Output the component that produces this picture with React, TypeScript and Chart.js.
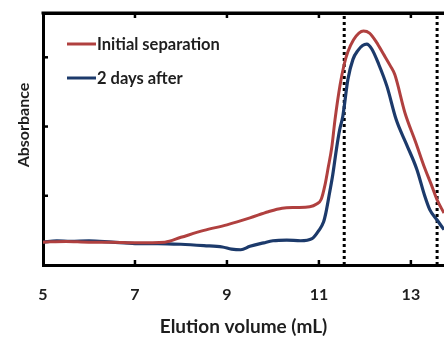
import React, { useEffect, useRef } from "react";
import { Chart, registerables } from "chart.js";

Chart.register(...registerables);

const xTickValues = [5, 7, 9, 11, 13];
const yTickValues = [1, 2, 3];
const xMin = 5;
const xMax = 13.72;
const yMin = 0;
const yMax = 3.64;

const seriesNames = ["Initial separation", "2 days after"];
const axisTitles = ["Elution volume (mL)", "Absorbance"];

const initialX = [5.0, 5.5, 6.0, 6.5, 7.0, 7.65, 8.0, 8.5, 9.0, 9.5, 9.9, 10.2, 10.5, 10.8, 10.95, 11.05, 11.13, 11.2, 11.28, 11.35, 11.46, 11.55, 11.63, 11.75, 11.87, 11.97, 12.1, 12.25, 12.4, 12.55, 12.65, 12.87, 13.1, 13.3, 13.45, 13.57, 13.72];
const initialY = [0.33, 0.34, 0.33, 0.33, 0.32, 0.33, 0.4, 0.5, 0.58, 0.68, 0.77, 0.82, 0.83, 0.84, 0.88, 0.95, 1.15, 1.4, 1.7, 2.1, 2.6, 2.9, 3.08, 3.25, 3.35, 3.38, 3.35, 3.22, 3.05, 2.88, 2.75, 2.2, 1.78, 1.4, 1.15, 0.94, 0.75];

const afterX = [5.0, 5.3, 5.6, 6.0, 6.5, 7.0, 7.5, 8.0, 8.5, 8.9, 9.1, 9.3, 9.5, 9.8, 10.0, 10.3, 10.6, 10.85, 11.0, 11.1, 11.15, 11.22, 11.3, 11.38, 11.45, 11.52, 11.63, 11.74, 11.85, 11.95, 12.04, 12.15, 12.3, 12.48, 12.68, 12.9, 13.13, 13.3, 13.41, 13.57, 13.72];
const afterY = [0.33, 0.35, 0.34, 0.35, 0.33, 0.31, 0.31, 0.3, 0.28, 0.26, 0.23, 0.22, 0.27, 0.32, 0.35, 0.36, 0.35, 0.38, 0.5, 0.62, 0.75, 1.0, 1.3, 1.67, 1.95, 2.15, 2.68, 2.97, 3.1, 3.17, 3.19, 3.12, 2.9, 2.58, 2.1, 1.75, 1.38, 1.0, 0.8, 0.65, 0.51];

const markerX = [11.55, 13.57];

const RED = "#B0403F";
const BLUE = "#1C3A6B";
const TEXT = "#1e1e1e";
const FONT = "Lato";

const toPoints = (xs: number[], ys: number[]) => xs.map((x, i) => ({ x, y: ys[i] }));

const setTicks = (vals: number[]) => (scale: any) => {
  scale.ticks = vals.map((v) => ({ value: v }));
};

const frameAndLegend = {
  id: "frameAndLegend",
  afterDraw(chart: any) {
    const { ctx, chartArea, scales } = chart;
    ctx.save();
    // top frame line
    ctx.fillStyle = "#000";
    ctx.fillRect(chartArea.left - 1.5, chartArea.top - 1.5, chartArea.right - chartArea.left + 1.5, 3);
    // inward tick marks
    ctx.strokeStyle = "#000";
    ctx.lineWidth = 2.5;
    const len = 5;
    xTickValues.forEach((v) => {
      const px = scales.x.getPixelForValue(v);
      if (Math.abs(px - chartArea.left) < 2) return;
      ctx.beginPath();
      ctx.moveTo(px, chartArea.bottom);
      ctx.lineTo(px, chartArea.bottom - len);
      ctx.moveTo(px, chartArea.top);
      ctx.lineTo(px, chartArea.top + len);
      ctx.stroke();
    });
    yTickValues.forEach((v) => {
      const py = scales.y.getPixelForValue(v);
      ctx.beginPath();
      ctx.moveTo(chartArea.left, py);
      ctx.lineTo(chartArea.left + len, py);
      ctx.stroke();
    });
    // legend
    const colors = [RED, BLUE];
    const rows = [44, 78];
    ctx.font = `bold 16.5px ${FONT}`;
    ctx.textBaseline = "middle";
    ctx.textAlign = "left";
    rows.forEach((ry, i) => {
      ctx.strokeStyle = colors[i];
      ctx.lineWidth = 3;
      ctx.beginPath();
      ctx.moveTo(67, ry);
      ctx.lineTo(96, ry);
      ctx.stroke();
      ctx.fillStyle = TEXT;
      ctx.fillText(seriesNames[i], 97, ry + 1);
    });
    // y axis title
    ctx.translate(24, 125);
    ctx.rotate(-Math.PI / 2);
    ctx.textAlign = "center";
    ctx.textBaseline = "middle";
    ctx.font = `bold 16px ${FONT}`;
    ctx.fillStyle = TEXT;
    ctx.fillText(axisTitles[1], 0, 0);
    ctx.restore();
  },
};

export default function App() {
  const canvasRef = useRef<HTMLCanvasElement | null>(null);

  useEffect(() => {
    if (!canvasRef.current) return;
    const gridOpts = { display: true, drawOnChartArea: false, drawTicks: false };
    const borderOpts = { display: true, color: "#000", width: 3 };
    const chart = new Chart(canvasRef.current, {
      type: "line",
      data: {
        datasets: [
          {
            label: seriesNames[0],
            data: toPoints(initialX, initialY),
            borderColor: RED,
            borderWidth: 3,
            pointRadius: 0,
            cubicInterpolationMode: "monotone",
            fill: false,
          },
          {
            label: seriesNames[1],
            data: toPoints(afterX, afterY),
            borderColor: BLUE,
            borderWidth: 3.2,
            pointRadius: 0,
            cubicInterpolationMode: "monotone",
            fill: false,
          },
          ...markerX.map((mx) => ({
            label: "marker",
            data: [
              { x: mx, y: yMin },
              { x: mx, y: yMax },
            ],
            borderColor: "#000",
            borderWidth: 3,
            borderDash: [3, 3],
            pointRadius: 0,
            fill: false,
          })),
        ],
      },
      options: {
        animation: false,
        responsive: true,
        maintainAspectRatio: false,
        layout: { padding: 0 },
        plugins: { legend: { display: false }, tooltip: { enabled: false } },
        scales: {
          x: {
            type: "linear",
            position: "bottom",
            min: xMin,
            max: xMax,
            afterBuildTicks: setTicks(xTickValues),
            afterFit: (s: any) => {
              s.height = 72;
            },
            grid: gridOpts,
            border: borderOpts,
            ticks: {
              color: TEXT,
              font: { family: FONT, weight: "bold", size: 16 },
              padding: 20,
              maxRotation: 0,
              autoSkip: false,
            },
            title: {
              display: true,
              text: axisTitles[0],
              color: TEXT,
              font: { family: FONT, weight: "bold", size: 19, lineHeight: 1.1 },
              padding: { top: 0, bottom: 0 },
            },
          },
          xTop: {
            type: "linear",
            position: "top",
            min: xMin,
            max: xMax,
            afterBuildTicks: setTicks(xTickValues),
            afterFit: (s: any) => {
              s.height = 13;
            },
            grid: gridOpts,
            border: borderOpts,
            ticks: { display: false },
          },
          y: {
            type: "linear",
            position: "left",
            min: yMin,
            max: yMax,
            afterBuildTicks: setTicks(yTickValues),
            afterFit: (s: any) => {
              s.width = 43;
            },
            grid: gridOpts,
            border: borderOpts,
            ticks: { display: false },
          },
        },
      } as any,
      plugins: [frameAndLegend],
    });
    return () => chart.destroy();
  }, []);

  return (
    <div style={{ position: "fixed", left: 0, top: 0, width: 444, height: 337, background: "#fff" }}>
      <canvas ref={canvasRef} />
    </div>
  );
}
